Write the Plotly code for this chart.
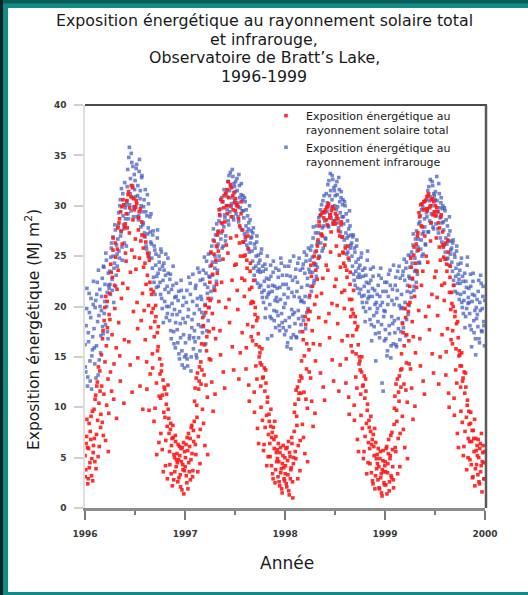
import pandas as pd
import plotly.graph_objects as go

# ---------------- data (MJ m-2) ----------------
# two interleaved sets of readings per year: "a" from 1 Jan and "b" from 2 Jan, each every 3 days
years = [1996, 1997, 1998, 1999]
tick_years = ["1996", "1997", "1998", "1999", "2000"]
y_ticks = [0, 5, 10, 15, 20, 25, 30, 35, 40]

solar_1996 = [
    5.2, 3.8, 7.1, 6.0, 2.9, 8.4, 4.5, 6.8, 3.2, 9.6, 5.5,
    9.8, 4.6, 11.2, 7.3, 12.5, 5.1, 10.4, 13.6, 8.0,
    15.2, 8.5, 17.6, 11.3, 19.9, 6.7, 16.1, 20.5, 12.8, 9.4,
    21.3, 13.5, 23.4, 17.2, 25.6, 10.8, 22.1, 26.3, 15.9, 21.7,
    27.8, 18.4, 28.7, 12.6, 27.5, 29.9, 22.3, 30.1, 16.7, 28.2, 24.5,
    30.5, 21.8, 31.4, 27.3, 14.2, 30.9, 25.6, 31.8, 19.5, 29.6,
    29.9, 23.7, 30.2, 17.8, 27.6, 29.4, 12.1, 26.5, 28.4, 21.3,
    25.8, 19.6, 24.3, 26.4, 14.5, 23.1, 25.0, 9.7, 22.4, 17.9,
    21.2, 15.3, 19.8, 8.6, 18.5, 20.1, 12.4, 17.4, 16.0, 6.5,
    14.8, 10.9, 13.6, 5.8, 12.7, 9.5, 11.8, 4.2, 10.3, 8.1, 12.2,
    8.9, 5.6, 7.8, 3.4, 6.9, 8.2, 2.8, 5.0, 7.2, 4.1,
    5.4, 2.6, 4.8, 6.1, 3.3, 5.9, 1.8, 4.3, 6.5, 3.7,
]
solar_1996_b = [
    3.1, 6.4, 8.8, 2.4, 5.9, 4.0, 7.6, 9.1, 4.9, 2.7, 6.2,
    6.9, 10.8, 3.9, 12.1, 8.7, 14.0, 6.1, 11.6, 9.3,
    12.1, 16.8, 7.2, 18.6, 14.5, 21.0, 10.2, 17.9, 5.6, 19.2,
    18.7, 24.2, 11.6, 22.9, 26.8, 14.3, 19.8, 24.9, 8.9, 25.7,
    23.6, 28.3, 15.1, 29.4, 20.8, 26.2, 30.6, 10.4, 27.9, 25.3, 29.2,
    27.8, 31.1, 16.5, 29.8, 23.4, 32.0, 11.5, 28.6, 30.7, 24.9,
    26.7, 30.5, 20.4, 14.9, 28.8, 24.8, 29.7, 18.6, 27.1, 9.8,
    23.9, 27.0, 16.7, 22.2, 11.8, 25.3, 20.1, 24.6, 13.3, 21.7,
    19.4, 13.9, 21.5, 17.0, 9.9, 19.0, 5.3, 15.6, 18.0, 11.1,
    13.3, 7.4, 14.2, 11.2, 3.6, 12.0, 9.0, 6.7, 11.3, 2.9, 9.8,
    7.4, 4.3, 8.4, 6.2, 2.2, 7.0, 5.3, 3.6, 6.6, 4.8,
    4.5, 6.3, 3.0, 5.2, 2.1, 4.6, 6.0, 3.8, 1.4, 5.6,
]
infrared_1996 = [
    16.2, 13.5, 19.8, 12.1, 17.4, 21.3, 14.6, 18.9, 11.8, 15.7, 20.2,
    17.8, 14.3, 20.6, 16.1, 22.4, 13.2, 19.1, 21.7, 15.4,
    19.6, 22.8, 17.3, 23.9, 20.5, 18.2, 24.6, 21.4, 16.8, 22.1,
    23.5, 21.2, 25.8, 22.7, 26.9, 20.4, 24.3, 27.6, 23.1, 25.2,
    26.7, 29.3, 24.8, 30.6, 27.4, 25.9, 31.2, 28.1, 26.3, 29.8, 30.1,
    30.4, 33.6, 28.7, 35.8, 31.2, 29.5, 34.3, 32.0, 28.9, 33.1,
    32.5, 29.8, 34.1, 31.0, 28.6, 33.4, 30.7, 27.9, 32.8, 29.4,
    28.3, 30.6, 26.9, 29.4, 25.7, 31.1, 27.8, 24.9, 28.9, 26.4,
    26.2, 23.8, 27.5, 22.4, 25.6, 24.1, 21.9, 26.8, 23.3, 25.0,
    23.7, 21.2, 25.4, 19.8, 22.6, 24.3, 20.5, 23.1, 18.9, 22.0, 24.8,
    21.4, 18.6, 23.2, 16.8, 20.3, 22.1, 17.5, 19.7, 15.9, 21.0,
    19.2, 16.4, 21.5, 14.8, 18.3, 22.6, 15.6, 20.1, 17.2, 13.9,
]
infrared_1996_b = [
    14.0, 18.1, 21.8, 13.0, 16.5, 19.4, 12.6, 20.8, 15.1, 17.0, 22.5,
    15.9, 19.9, 12.9, 21.2, 18.5, 23.6, 14.7, 20.0, 17.1,
    21.0, 18.0, 24.0, 19.3, 22.2, 25.3, 20.0, 17.5, 23.3, 21.8,
    22.2, 24.9, 26.3, 21.6, 25.0, 23.8, 28.1, 22.0, 26.1, 24.0,
    28.0, 25.5, 30.0, 27.0, 31.7, 24.6, 29.0, 27.7, 32.3, 28.7, 26.0,
    31.9, 29.2, 34.8, 30.1, 32.7, 35.2, 30.8, 33.9, 29.9, 31.6,
    30.9, 33.7, 28.9, 32.0, 29.0, 34.6, 31.5, 30.0, 33.0, 28.1,
    29.9, 27.3, 31.6, 26.0, 29.0, 27.2, 30.2, 25.3, 27.4, 29.2,
    24.8, 27.1, 22.9, 26.0, 21.2, 25.2, 23.0, 27.6, 22.0, 24.4,
    22.4, 25.7, 20.8, 24.0, 18.4, 23.6, 21.7, 25.2, 20.0, 19.3, 23.3,
    20.0, 22.7, 17.6, 21.7, 19.2, 24.0, 16.3, 20.9, 18.4, 22.3,
    17.7, 20.6, 15.3, 19.5, 16.9, 21.6, 14.2, 18.8, 20.9, 15.0,
]
solar_1997 = [
    4.1, 6.3, 2.5, 5.7, 7.4, 3.6, 6.9, 4.8, 8.2, 3.1, 7.7,
    8.6, 11.9, 5.3, 10.2, 13.4, 7.1, 12.6, 4.4, 14.5,
    16.3, 9.8, 18.1, 13.2, 6.2, 19.4, 15.6, 11.0, 20.8, 17.5,
    22.4, 14.7, 24.1, 19.3, 9.6, 25.2, 21.6, 16.8, 26.0, 23.3,
    27.4, 20.5, 29.1, 15.2, 28.3, 30.4, 24.7, 29.8, 11.9, 31.2, 26.1,
    31.6, 25.3, 30.8, 18.4, 32.1, 28.9, 22.6, 31.0, 13.7, 30.3,
    29.5, 24.2, 30.1, 19.7, 28.7, 26.3, 15.4, 29.2, 22.8, 27.6,
    26.4, 21.0, 25.1, 13.8, 24.6, 18.2, 25.7, 10.6, 23.5, 20.3,
    21.9, 16.6, 20.4, 11.5, 19.2, 14.1, 18.6, 7.9, 17.3, 15.0,
    15.4, 12.1, 14.2, 8.7, 13.0, 6.3, 11.6, 13.7, 9.2, 10.5, 5.1,
    9.3, 6.4, 8.1, 4.2, 7.5, 2.9, 6.8, 8.6, 3.8, 5.5,
    5.8, 3.1, 4.6, 2.2, 6.0, 3.9, 1.5, 5.2, 4.0, 2.7,
]
solar_1997_b = [
    5.0, 3.2, 7.0, 1.9, 4.5, 6.1, 2.8, 8.0, 5.4, 3.7, 6.6,
    10.6, 6.3, 12.9, 9.0, 3.6, 11.8, 14.0, 7.8, 12.3,
    13.7, 18.9, 8.4, 16.2, 20.1, 12.2, 17.0, 5.3, 19.9, 14.8,
    20.6, 25.4, 12.5, 23.2, 17.8, 26.5, 11.3, 24.6, 22.2, 27.1,
    25.5, 29.6, 17.6, 30.6, 22.4, 27.5, 13.5, 31.0, 28.4, 19.9, 30.0,
    29.2, 32.4, 20.7, 30.0, 26.8, 31.8, 16.0, 29.6, 31.3, 24.1,
    30.7, 27.0, 21.6, 29.9, 12.8, 28.0, 25.0, 30.4, 17.4, 26.4,
    25.0, 22.6, 26.9, 15.9, 23.8, 27.0, 12.2, 21.7, 24.3, 17.0,
    20.5, 18.0, 22.6, 9.5, 19.9, 16.2, 12.8, 18.9, 6.4, 16.0,
    14.4, 10.0, 15.8, 12.9, 5.7, 13.9, 8.0, 12.4, 4.2, 11.0, 7.3,
    8.6, 5.1, 9.8, 7.0, 3.4, 8.0, 5.9, 2.5, 7.1, 4.6,
    4.9, 6.4, 2.6, 5.5, 3.5, 1.9, 4.4, 6.2, 2.9, 5.0,
]
infrared_1997 = [
    18.4, 15.2, 21.6, 14.1, 19.7, 16.8, 22.3, 13.6, 17.9, 20.5, 15.8,
    19.3, 16.5, 22.1, 14.9, 20.8, 18.2, 23.4, 15.6, 21.0,
    20.7, 17.4, 23.6, 19.1, 22.2, 16.3, 24.5, 21.3, 18.6, 23.0,
    22.9, 25.3, 20.8, 24.4, 26.6, 21.7, 23.8, 27.1, 22.5, 25.9,
    26.2, 28.5, 24.6, 29.7, 27.3, 25.8, 30.4, 27.9, 29.1, 26.5, 31.3,
    29.6, 32.4, 28.1, 31.5, 33.3, 29.9, 30.8, 32.9, 28.6, 31.9,
    31.4, 29.2, 32.7, 30.3, 28.4, 32.0, 29.8, 31.1, 27.6, 30.6,
    29.5, 27.2, 30.4, 28.0, 26.1, 29.0, 27.7, 25.4, 28.6, 26.8,
    26.9, 24.5, 27.8, 23.1, 25.8, 24.0, 26.4, 22.3, 25.1, 23.7,
    24.6, 22.1, 25.7, 20.9, 23.5, 21.6, 24.2, 19.8, 22.8, 25.0, 21.2,
    22.7, 20.2, 24.1, 18.8, 21.5, 23.4, 19.6, 22.0, 17.9, 20.9,
    21.8, 19.1, 23.6, 17.6, 20.7, 24.3, 18.4, 22.2, 19.9, 17.2,
]
infrared_1997_b = [
    16.4, 20.4, 14.8, 19.0, 22.9, 17.1, 21.2, 15.0, 18.7, 23.2, 16.9,
    17.6, 21.8, 15.2, 20.1, 23.8, 16.9, 19.7, 22.6, 18.0,
    19.4, 22.7, 18.0, 24.9, 20.2, 23.3, 17.6, 21.9, 25.2, 19.9,
    24.0, 21.5, 26.0, 23.1, 27.7, 22.0, 25.0, 24.4, 28.2, 23.6,
    27.5, 25.0, 29.0, 26.7, 30.8, 28.2, 26.0, 31.6, 28.8, 27.0, 30.0,
    30.9, 28.5, 33.0, 29.4, 31.9, 30.2, 33.6, 28.9, 32.2, 30.5,
    32.4, 30.0, 31.5, 28.9, 33.1, 30.8, 27.8, 32.2, 29.5, 31.0,
    28.8, 30.8, 26.6, 29.6, 27.4, 25.8, 28.3, 30.0, 26.3, 27.5,
    25.5, 27.3, 23.8, 26.2, 22.6, 25.0, 27.0, 23.5, 24.3, 21.9,
    23.4, 25.3, 21.4, 24.0, 20.4, 22.5, 18.9, 23.7, 20.9, 16.8, 22.0,
    21.4, 19.0, 23.0, 17.1, 22.1, 24.5, 18.6, 20.6, 23.8, 19.5,
    20.5, 22.9, 18.1, 21.9, 24.8, 19.3, 23.1, 17.9, 21.2, 24.0,
]
solar_1998 = [
    3.4, 5.9, 2.1, 4.7, 6.6, 1.3, 5.1, 3.8, 7.0, 2.6, 4.4,
    7.6, 10.3, 4.9, 9.1, 12.0, 6.2, 11.4, 3.7, 13.1,
    14.6, 8.3, 16.7, 11.5, 5.4, 18.2, 13.8, 9.9, 19.6, 15.7,
    21.1, 12.9, 23.0, 17.6, 8.1, 24.3, 20.2, 14.6, 25.5, 22.7,
    26.6, 18.9, 28.0, 13.4, 27.2, 29.3, 22.8, 28.8, 10.7, 29.6, 24.1,
    29.8, 23.6, 30.2, 16.9, 29.1, 27.4, 20.3, 29.9, 12.6, 28.5,
    28.2, 22.7, 29.0, 18.3, 27.5, 25.1, 14.2, 28.1, 21.4, 26.9,
    25.3, 19.8, 24.0, 12.4, 23.6, 17.1, 24.8, 9.3, 22.2, 19.0,
    20.7, 15.5, 19.3, 10.2, 18.4, 13.0, 17.7, 6.8, 16.2, 14.3,
    14.6, 11.3, 13.5, 7.9, 12.2, 5.6, 10.9, 12.8, 8.4, 9.7, 4.5,
    8.7, 5.9, 7.6, 3.5, 6.8, 2.4, 6.1, 7.9, 3.2, 4.9,
    5.3, 2.8, 4.1, 1.9, 5.6, 3.4, 1.2, 4.7, 3.6, 2.3,
]
solar_1998_b = [
    4.2, 2.4, 6.0, 3.3, 1.7, 5.5, 2.9, 4.0, 6.4, 1.0, 5.0,
    9.5, 5.6, 11.7, 8.2, 2.9, 10.8, 12.6, 6.7, 11.4,
    12.9, 17.5, 7.0, 15.1, 19.0, 10.8, 16.3, 4.6, 18.7, 13.5,
    19.5, 24.1, 10.6, 22.0, 16.3, 25.0, 9.4, 23.6, 21.0, 26.0,
    24.8, 28.4, 16.2, 29.1, 21.3, 27.0, 12.0, 29.4, 26.1, 18.5, 28.6,
    28.1, 30.0, 19.3, 28.8, 25.4, 29.5, 14.7, 28.2, 29.7, 22.0,
    29.2, 26.0, 20.1, 28.7, 11.6, 27.0, 23.9, 28.4, 16.6, 25.4,
    24.3, 21.6, 25.8, 14.8, 22.9, 26.0, 11.0, 20.7, 23.4, 16.1,
    19.7, 17.1, 21.6, 8.7, 19.0, 15.3, 11.9, 18.0, 5.6, 15.0,
    13.7, 9.2, 15.0, 12.1, 4.9, 13.1, 7.1, 11.6, 3.4, 10.3, 6.5,
    8.0, 4.4, 9.1, 6.3, 2.7, 7.3, 5.2, 1.9, 6.5, 3.9,
    4.4, 5.9, 2.0, 4.9, 3.0, 1.5, 3.8, 5.7, 2.5, 4.2,
]
infrared_1998 = [
    20.3, 17.6, 23.1, 16.4, 21.8, 18.9, 24.5, 15.8, 19.7, 22.6, 17.2,
    21.0, 18.3, 23.7, 16.9, 22.4, 19.6, 24.8, 17.5, 20.5,
    21.9, 19.0, 24.2, 20.4, 23.3, 17.8, 25.1, 22.1, 19.8, 23.7,
    23.4, 25.6, 21.5, 24.9, 26.8, 22.3, 24.1, 27.3, 23.0, 26.2,
    26.4, 28.8, 24.9, 29.6, 27.1, 25.5, 30.5, 28.0, 29.3, 26.8, 31.2,
    29.4, 32.1, 27.9, 31.0, 33.2, 28.8, 30.6, 32.6, 28.2, 31.5,
    31.0, 28.7, 32.4, 29.9, 27.8, 31.6, 29.3, 30.8, 26.9, 30.1,
    28.9, 26.6, 30.0, 27.3, 25.2, 28.5, 27.0, 24.6, 28.0, 26.1,
    26.3, 24.0, 27.1, 22.6, 25.4, 23.5, 26.0, 21.8, 24.7, 23.2,
    24.1, 21.7, 25.3, 20.4, 23.0, 21.1, 23.8, 19.5, 22.4, 24.6, 20.8,
    22.3, 19.8, 23.7, 18.2, 21.0, 23.0, 19.1, 21.6, 17.3, 20.4,
    21.2, 18.5, 23.1, 16.9, 20.1, 22.8, 12.4, 21.5, 19.0, 16.6,
]
infrared_1998_b = [
    18.6, 22.2, 16.0, 20.9, 24.0, 18.0, 23.0, 16.9, 21.4, 19.2, 25.0,
    19.4, 22.9, 17.0, 21.5, 24.3, 18.8, 20.9, 23.6, 18.2,
    20.6, 23.8, 18.6, 25.4, 21.0, 24.5, 19.4, 22.8, 25.8, 20.9,
    24.6, 22.0, 26.0, 23.4, 27.9, 22.6, 25.4, 24.2, 28.0, 23.9,
    27.3, 25.0, 29.0, 26.3, 30.1, 27.8, 25.8, 31.0, 28.5, 26.7, 29.9,
    30.3, 28.0, 32.5, 29.1, 31.5, 29.8, 33.0, 28.5, 31.8, 30.0,
    32.0, 29.6, 31.1, 28.3, 32.8, 30.4, 27.4, 31.4, 28.9, 30.6,
    28.2, 30.4, 26.0, 29.2, 26.8, 25.4, 27.7, 29.5, 25.8, 27.1,
    25.0, 26.9, 23.2, 25.8, 22.1, 24.4, 26.6, 22.9, 23.8, 21.3,
    22.9, 24.9, 21.0, 23.6, 19.9, 22.0, 18.5, 23.1, 20.4, 25.5, 21.5,
    21.0, 18.7, 22.6, 16.6, 21.8, 23.9, 18.0, 20.2, 14.6, 19.4,
    19.8, 22.1, 17.4, 21.0, 23.8, 18.2, 20.4, 11.6, 19.6, 22.4,
]
solar_1999 = [
    4.6, 2.3, 6.1, 3.5, 5.4, 1.7, 4.9, 7.2, 3.0, 5.8, 2.8,
    8.3, 11.1, 5.6, 9.7, 12.8, 6.9, 10.6, 4.1, 13.7,
    15.3, 9.1, 17.4, 12.3, 6.0, 18.9, 14.4, 10.5, 20.2, 16.6,
    22.0, 13.8, 23.9, 18.5, 8.8, 25.1, 21.0, 15.4, 26.2, 23.5,
    27.3, 19.6, 28.9, 14.1, 28.0, 30.2, 23.5, 29.6, 11.3, 30.5, 25.0,
    30.9, 24.4, 31.2, 17.7, 30.0, 28.3, 21.2, 30.7, 13.4, 29.4,
    29.0, 23.5, 29.8, 19.1, 28.3, 25.9, 15.0, 28.9, 22.1, 27.4,
    25.9, 20.6, 24.7, 13.2, 24.2, 17.8, 25.4, 10.0, 22.9, 19.7,
    21.4, 16.3, 20.0, 10.9, 19.0, 13.7, 18.3, 7.4, 16.9, 15.1,
    15.2, 12.0, 14.1, 8.5, 12.9, 6.1, 11.4, 13.4, 9.0, 10.2, 5.0,
    9.6, 6.6, 8.4, 4.3, 7.7, 3.1, 6.9, 8.8, 3.9, 5.7,
    6.2, 3.3, 5.0, 2.4, 6.4, 4.2, 1.6, 5.5, 4.5, 2.9,
]
solar_1999_b = [
    3.6, 5.9, 1.4, 4.4, 6.8, 2.6, 5.2, 3.2, 7.5, 4.1, 2.0,
    9.9, 6.0, 12.3, 8.6, 3.4, 11.5, 13.1, 7.4, 12.0,
    13.8, 18.3, 7.8, 16.1, 19.8, 11.7, 17.2, 4.9, 19.5, 14.3,
    20.4, 24.8, 11.9, 22.8, 17.0, 25.9, 10.1, 24.3, 21.9, 27.0,
    25.6, 29.3, 16.8, 30.1, 22.1, 27.9, 12.6, 30.4, 27.0, 19.0, 29.7,
    29.5, 31.0, 20.0, 29.8, 26.5, 30.6, 15.3, 29.1, 30.4, 22.9,
    30.0, 26.8, 20.9, 29.4, 12.3, 27.8, 24.6, 29.1, 17.2, 26.1,
    24.9, 22.3, 26.3, 15.5, 23.5, 26.6, 11.4, 21.4, 24.0, 16.7,
    20.3, 17.6, 22.1, 9.2, 19.5, 15.8, 12.4, 18.5, 6.0, 15.6,
    14.1, 9.6, 15.4, 12.6, 5.2, 13.5, 7.6, 12.0, 3.8, 10.7, 6.9,
    8.3, 4.8, 9.5, 6.6, 3.0, 7.7, 5.6, 2.2, 6.9, 4.3,
    5.2, 6.8, 2.6, 5.9, 3.6, 7.4, 4.6, 6.2, 2.9, 5.6,
]
infrared_1999 = [
    19.5, 16.8, 22.4, 15.6, 21.0, 18.1, 23.6, 14.9, 19.0, 21.7, 16.3,
    20.2, 17.4, 22.9, 16.0, 21.6, 18.8, 24.0, 16.7, 19.8,
    21.2, 18.4, 23.5, 19.8, 22.6, 17.1, 24.4, 21.5, 19.2, 23.0,
    22.8, 25.0, 20.9, 24.3, 26.1, 21.6, 23.5, 26.7, 22.4, 25.5,
    25.9, 28.2, 24.3, 29.0, 26.6, 25.0, 29.9, 27.4, 28.7, 26.2, 30.6,
    28.9, 31.5, 27.4, 30.5, 32.6, 28.3, 30.0, 32.0, 27.7, 31.0,
    30.6, 28.2, 32.9, 29.4, 27.3, 31.2, 28.8, 30.3, 26.4, 29.7,
    28.4, 26.1, 29.5, 26.8, 24.7, 28.0, 26.5, 24.1, 27.5, 25.6,
    25.8, 23.5, 26.6, 22.1, 24.9, 23.0, 25.5, 21.3, 24.2, 22.7,
    23.6, 21.2, 24.8, 19.9, 22.5, 20.6, 23.3, 19.0, 21.9, 24.1, 20.3,
    21.8, 19.3, 23.2, 17.7, 20.5, 22.5, 18.6, 21.1, 16.8, 19.9,
    20.7, 18.0, 22.6, 16.4, 19.6, 22.3, 17.5, 21.0, 18.5, 16.1,
]
infrared_1999_b = [
    17.7, 21.5, 15.1, 20.2, 23.2, 17.3, 22.1, 16.1, 20.6, 18.3, 24.1,
    18.6, 22.1, 16.2, 20.8, 23.5, 17.8, 20.1, 22.8, 17.5,
    19.9, 23.1, 17.9, 24.7, 20.4, 23.8, 18.7, 22.1, 25.1, 20.1,
    23.9, 21.4, 25.4, 22.7, 27.2, 22.0, 24.8, 23.6, 27.5, 23.2,
    26.7, 24.4, 28.4, 25.7, 29.6, 27.2, 25.2, 30.4, 27.9, 26.1, 29.3,
    29.7, 27.4, 31.9, 28.5, 30.9, 29.2, 32.4, 27.9, 31.2, 29.4,
    31.4, 29.0, 30.5, 27.7, 32.2, 29.8, 26.8, 30.8, 28.3, 30.0,
    27.6, 29.8, 25.4, 28.6, 26.2, 24.8, 27.1, 28.9, 25.2, 26.5,
    24.4, 26.3, 22.6, 25.2, 21.5, 23.8, 26.0, 22.3, 23.2, 20.7,
    22.3, 24.3, 20.4, 23.0, 19.3, 21.4, 17.9, 22.5, 19.8, 24.9, 20.9,
    20.4, 18.1, 22.0, 16.0, 21.2, 23.3, 17.4, 19.6, 15.2, 18.8,
    19.2, 21.5, 16.8, 20.4, 23.1, 17.6, 19.8, 22.0, 18.1, 20.6,
]

solar_sets = [
    ("01", dict(zip(years, [solar_1996, solar_1997, solar_1998, solar_1999]))),
    ("02", dict(zip(years, [solar_1996_b, solar_1997_b, solar_1998_b, solar_1999_b]))),
]
infrared_sets = [
    ("01", dict(zip(years, [infrared_1996, infrared_1997, infrared_1998, infrared_1999]))),
    ("02", dict(zip(years, [infrared_1996_b, infrared_1997_b, infrared_1998_b, infrared_1999_b]))),
]

name_solar = "Exposition énergétique au<br>rayonnement solaire total"
name_ir = "Exposition énergétique au<br>rayonnement infrarouge"


def series(sets):
    xs, ys = [], []
    for start_day, by_year in sets:
        for yr in years:
            vals = by_year[yr]
            xs.extend(pd.date_range(f"{yr}-01-{start_day}", periods=len(vals), freq="3D"))
            ys.extend(vals)
    return xs, ys


x_sol, y_sol = series(solar_sets)
x_ir, y_ir = series(infrared_sets)

# ---------------- figure ----------------
W, H = 528, 595
L, R, T, B = 85, 43, 105, 87
pw, ph = W - L - R, H - T - B


def px(xp):
    return (xp - L) / pw


def py(yp):
    return (H - B - yp) / ph


fig = go.Figure()
fig.add_trace(go.Scatter(
    x=x_ir, y=y_ir, mode="markers", name=name_ir,
    marker=dict(symbol="square", size=3.6, color="rgba(60,85,190,0.70)", line=dict(width=0)),
))
fig.add_trace(go.Scatter(
    x=x_sol, y=y_sol, mode="markers", name=name_solar,
    marker=dict(symbol="square", size=3.6, color="rgba(255,25,25,0.90)", line=dict(width=0)),
))

TEAL = "#138b85"
shapes = [
    dict(type="rect", xref="paper", yref="paper", layer="below",
         x0=px(8), x1=px(W + 2), y0=py(592), y1=py(8),
         fillcolor="white", line=dict(width=0)),
    dict(type="rect", xref="paper", yref="paper", layer="below",
         x0=px(-2), x1=px(3), y0=py(H + 2), y1=py(-2),
         fillcolor="#0b2426", line=dict(width=0)),
    dict(type="rect", xref="paper", yref="paper", layer="below",
         x0=px(3), x1=px(W + 2), y0=py(3.5), y1=py(-2),
         fillcolor="#0c5d59", line=dict(width=0)),
    # frame lines (top and right)
    dict(type="line", xref="paper", yref="paper", x0=0, x1=px(487), y0=1, y1=1,
         line=dict(color="#4a4a4a", width=2)),
    dict(type="line", xref="paper", yref="paper", x0=px(486), x1=px(486), y0=0, y1=1,
         line=dict(color="#5a5a5a", width=2.5)),
]

FONT = "DejaVu Sans"
annotations = []
title_lines = [
    ("Exposition énergétique au rayonnement solaire total", 20.5),
    ("et infrarouge,", 39.0),
    ("Observatoire de Bratt’s Lake,", 57.5),
    ("1996-1999", 76.0),
]
for txt, yc in title_lines:
    annotations.append(dict(text=txt, xref="paper", yref="paper", x=px(264), y=py(yc),
                            xanchor="center", yanchor="middle", showarrow=False,
                            font=dict(family=FONT, size=15.8, color="#1a1a1a")))
annotations.append(dict(text="Année", xref="paper", yref="paper", x=px(287), y=py(563),
                        xanchor="center", yanchor="middle", showarrow=False,
                        font=dict(family=FONT, size=17, color="#1a1a1a")))
annotations.append(dict(text="Exposition énergétique (MJ m<sup>2</sup>)", xref="paper", yref="paper",
                        x=px(32), y=py(330), textangle=-90, xanchor="center", yanchor="middle",
                        showarrow=False, font=dict(family=FONT, size=15.5, color="#1a1a1a")))

tick_font = dict(family=FONT, size=9, color="#3a3a3a", weight="bold")

fig.update_layout(
    width=W, height=H,
    margin=dict(l=L, r=R, t=T, b=B, pad=0),
    paper_bgcolor=TEAL, plot_bgcolor="white",
    showlegend=True,
    legend=dict(x=px(266), y=py(102), xanchor="left", yanchor="top", traceorder="reversed",
                valign="top", bgcolor="rgba(0,0,0,0)", borderwidth=0, tracegroupgap=0,
                font=dict(family=FONT, size=11, color="#1a1a1a")),
    shapes=shapes, annotations=annotations,
    xaxis=dict(
        type="date", range=["1996-01-01", "2000-01-01"],
        tickvals=[f"{t}-01-01" for t in tick_years], ticktext=tick_years,
        ticks="outside", ticklen=9, tickwidth=2, tickcolor="#7a7a7a",
        ticklabelstandoff=6,
        minor=dict(tickvals=[f"{t}-07-01" for t in tick_years[:-1]], ticks="outside",
                   ticklen=4, tickwidth=2, tickcolor="#7a7a7a", showgrid=False),
        showline=True, linecolor="#8c8c8c", linewidth=2.5,
        showgrid=False, zeroline=False, tickfont=tick_font,
    ),
    yaxis=dict(
        range=[0, 40], tickvals=y_ticks, ticktext=[str(v) for v in y_ticks],
        ticks="outside", ticklen=9, tickwidth=1.5, tickcolor="#cfcfcf",
        ticklabelstandoff=6,
        showline=True, linecolor="#dedede", linewidth=1.5,
        showgrid=False, zeroline=False, tickfont=tick_font,
    ),
)

fig.write_html("out.html")
